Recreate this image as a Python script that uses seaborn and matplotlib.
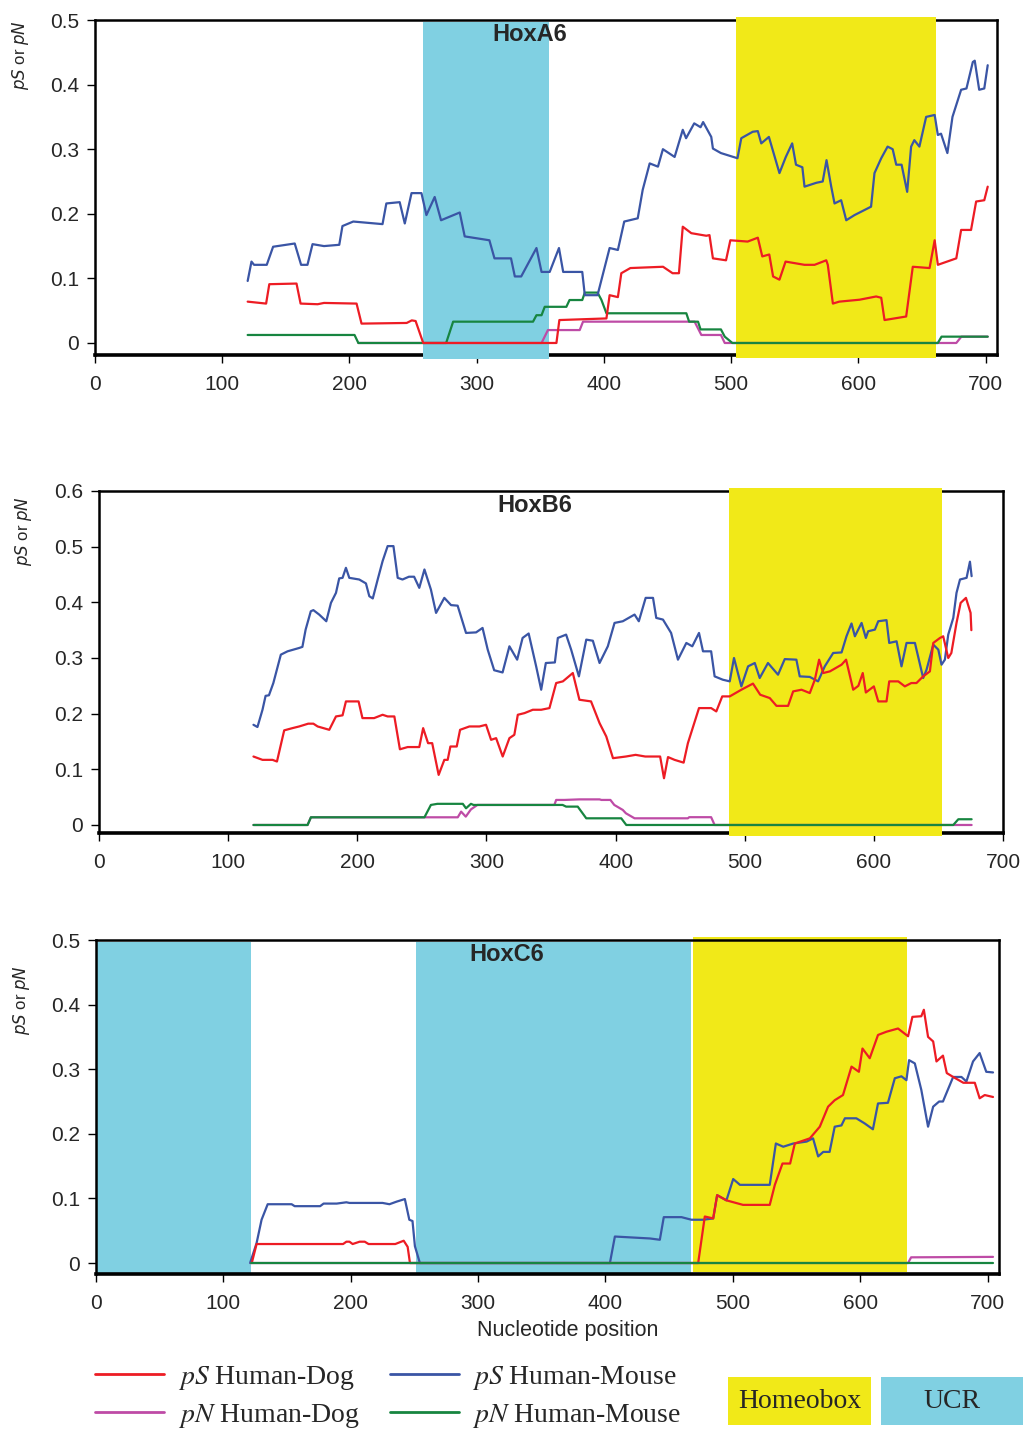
import numpy as np
import pandas as pd
import matplotlib
matplotlib.use('Agg')
import matplotlib.pyplot as plt
import seaborn as sns
from matplotlib.patches import Rectangle
from matplotlib.lines import Line2D
from matplotlib.ticker import FuncFormatter

# ---- data: (nucleotide position, value) ----
# HoxA6
a6_ps_dog = [(120, 0.064), (134.5, 0.061), (137, 0.091), (158.4, 0.092), (161.6, 0.061), (175, 0.060),
             (180, 0.062), (205.6, 0.061), (209.5, 0.030), (245, 0.031), (249, 0.035), (252, 0.034),
             (258, 0.0), (362.7, 0.0), (365, 0.0355), (402, 0.038), (404.5, 0.074), (411, 0.071),
             (413.7, 0.108), (420.8, 0.116), (446.5, 0.118), (454, 0.108), (459, 0.108), (462, 0.180),
             (468.7, 0.170), (480.5, 0.166), (483, 0.167), (485.7, 0.131), (496, 0.128), (499.4, 0.159),
             (513, 0.157), (521, 0.163), (524.5, 0.134), (530, 0.137), (533, 0.103), (538, 0.098),
             (542.8, 0.126), (557.7, 0.121), (565.6, 0.121), (574.8, 0.128), (576, 0.121), (580, 0.061),
             (585, 0.064), (601, 0.067), (614, 0.072), (618, 0.070), (620.6, 0.0355), (637.6, 0.041),
             (642.8, 0.118), (656, 0.116), (660, 0.159), (662.5, 0.121), (677, 0.131), (680.8, 0.175),
             (688.6, 0.175), (692.6, 0.219), (699, 0.221), (701.7, 0.242)]
a6_pn_dog = [(207, 0.0), (351, 0.0), (356, 0.020), (381, 0.020), (383.6, 0.033), (471.3, 0.033),
             (476.6, 0.0124), (492, 0.0124), (495, 0.0), (677, 0.0), (681, 0.0098), (701.7, 0.0098)]
a6_ps_mouse = [(120, 0.096), (123, 0.126), (125, 0.121), (135, 0.121), (140, 0.149), (157, 0.154),
               (162, 0.121), (167, 0.121), (171, 0.153), (180, 0.150), (192, 0.152), (194.5, 0.181),
               (203, 0.188), (226, 0.184), (229, 0.216), (239.5, 0.218), (243.5, 0.185), (248.8, 0.232),
               (256.6, 0.232), (260.5, 0.198), (267, 0.226), (272, 0.190), (286.7, 0.202), (290.6, 0.165),
               (310, 0.159), (314, 0.131), (327, 0.131), (330, 0.103), (335, 0.103), (347, 0.147),
               (351, 0.110), (357.4, 0.110), (364.7, 0.147), (368, 0.110), (383, 0.110), (385, 0.074),
               (395, 0.074), (404.5, 0.147), (411, 0.144), (416, 0.188), (426.6, 0.193), (430.5, 0.237),
               (436, 0.278), (442.5, 0.273), (446.4, 0.300), (455.6, 0.288), (462, 0.330), (464.6, 0.317),
               (471, 0.340), (476, 0.334), (478, 0.342), (484.4, 0.319), (485.7, 0.301), (492, 0.294),
               (505, 0.286), (508, 0.317), (517, 0.327), (521, 0.328), (523.7, 0.309), (529.7, 0.319),
               (538, 0.263), (543, 0.288), (548, 0.309), (551, 0.276), (556, 0.272), (557.7, 0.242),
               (567, 0.248), (572, 0.250), (575, 0.283), (578.7, 0.242), (581.3, 0.216), (586.5, 0.221),
               (590.5, 0.190), (597, 0.198), (610, 0.211), (612.7, 0.263), (618, 0.286), (623, 0.304),
               (627, 0.300), (629.8, 0.276), (634, 0.276), (638.4, 0.234), (641.5, 0.304), (644, 0.314),
               (648, 0.304), (653.3, 0.350), (660, 0.353), (662.5, 0.322), (665, 0.324), (670, 0.294),
               (674, 0.350), (680.8, 0.392), (685, 0.394), (690, 0.435), (691.5, 0.437), (695, 0.392),
               (699, 0.394), (701.7, 0.430)]
a6_pn_mouse = [(120, 0.0124), (204, 0.0124), (207, 0.0), (276, 0.0), (281.5, 0.033), (344.3, 0.033),
               (347, 0.043), (351, 0.043), (353.5, 0.056), (370.5, 0.056), (373, 0.0665), (383, 0.0665),
               (385, 0.078), (395, 0.078), (398, 0.067), (402, 0.046), (464.8, 0.046), (467, 0.033),
               (474, 0.033), (476, 0.021), (492, 0.021), (495, 0.0098), (501, 0.0), (662.5, 0.0),
               (665.4, 0.0098), (701.7, 0.0098)]

# HoxB6
b6_ps_dog = [(119.6, 0.123), (126.6, 0.117), (134.4, 0.117), (137.8, 0.114), (143.4, 0.170), (149.8, 0.174),
             (155, 0.177), (162, 0.182), (166, 0.182), (169.3, 0.177), (178.3, 0.171), (183.5, 0.195),
             (188.6, 0.197), (191.2, 0.222), (201, 0.222), (204, 0.192), (213, 0.192), (219.6, 0.198),
             (223.5, 0.195), (228.7, 0.195), (233, 0.136), (239, 0.140), (248, 0.140), (251, 0.174),
             (254.8, 0.147), (258, 0.147), (263, 0.090), (267.4, 0.117), (270, 0.117), (272.1, 0.141),
             (277, 0.141), (279.6, 0.171), (286.8, 0.177), (294.6, 0.177), (299.7, 0.180), (303.6, 0.153),
             (307.5, 0.156), (312.6, 0.123), (317.8, 0.156), (321.6, 0.162), (324.3, 0.198), (329.5, 0.201),
             (335.9, 0.207), (342.4, 0.207), (348.8, 0.210), (354, 0.255), (359.2, 0.258), (366.9, 0.273),
             (372, 0.225), (381, 0.222), (387.6, 0.183), (392.8, 0.159), (398, 0.120), (408, 0.123),
             (415.5, 0.126), (423, 0.123), (434.5, 0.123), (437.5, 0.084), (440.6, 0.122), (445.7, 0.117),
             (452.7, 0.112), (456, 0.147), (464.6, 0.210), (474, 0.210), (478, 0.204), (482.6, 0.231),
             (488.4, 0.231), (497.4, 0.243), (506.4, 0.254), (512, 0.234), (519.4, 0.228), (524.6, 0.214),
             (533.6, 0.214), (537.5, 0.240), (544, 0.243), (550.4, 0.237), (554.3, 0.261), (557.6, 0.297),
             (560.8, 0.273), (566, 0.276), (575, 0.288), (578.5, 0.297), (584, 0.243), (588, 0.250),
             (591.4, 0.273), (593.8, 0.238), (600, 0.249), (603.4, 0.222), (609.8, 0.222), (611.9, 0.258),
             (618.9, 0.258), (624, 0.249), (629, 0.255), (633, 0.255), (638.2, 0.267), (643.4, 0.276),
             (646, 0.327), (651.2, 0.336), (653.7, 0.339), (657.6, 0.300), (660, 0.309), (664, 0.363),
             (667.2, 0.399), (671.3, 0.408), (674.9, 0.381), (675.5, 0.350)]
b6_pn_dog = [(119.6, 0.0), (161.5, 0.0), (164.1, 0.0138), (277.8, 0.0138), (280.4, 0.024), (284, 0.015),
             (288, 0.028), (293, 0.036), (352.6, 0.036), (354, 0.045), (360.5, 0.045), (372, 0.046),
             (387.6, 0.046), (389, 0.045), (396, 0.045), (399, 0.036), (405.6, 0.027), (408, 0.021),
             (414.7, 0.012), (456, 0.012), (457, 0.014), (474, 0.014), (476.7, 0.0), (675.7, 0.0)]
b6_ps_mouse = [(119.6, 0.180), (122.7, 0.176), (126.6, 0.207), (129, 0.232), (131.6, 0.233), (135, 0.255),
               (140.8, 0.306), (146, 0.312), (155, 0.318), (157.5, 0.320), (160, 0.351), (164, 0.384),
               (166, 0.386), (170.5, 0.378), (176, 0.366), (179.6, 0.399), (183.5, 0.417), (186, 0.443),
               (188.6, 0.444), (191.2, 0.462), (193.8, 0.444), (201.5, 0.441), (206.7, 0.434), (209.3, 0.411),
               (212, 0.407), (215.8, 0.441), (219.6, 0.474), (223.5, 0.501), (228, 0.501), (231.3, 0.444),
               (235, 0.441), (240, 0.446), (244, 0.446), (248, 0.426), (252, 0.459), (257, 0.423),
               (261, 0.381), (267.4, 0.408), (272.6, 0.395), (277.7, 0.394), (284.2, 0.345), (292, 0.346),
               (297, 0.354), (301, 0.315), (306, 0.278), (312.5, 0.274), (317.8, 0.321), (323.8, 0.297),
               (328, 0.336), (332.7, 0.344), (338.5, 0.285), (342.4, 0.243), (346, 0.291), (353, 0.292),
               (355.3, 0.336), (361.7, 0.342), (365.6, 0.315), (371.6, 0.267), (377.3, 0.333), (382.4, 0.331),
               (387.6, 0.291), (394, 0.321), (399.2, 0.363), (405.6, 0.366), (414.7, 0.378), (418, 0.366),
               (423.3, 0.408), (429, 0.408), (431.5, 0.372), (436.7, 0.369), (443, 0.345), (448.3, 0.297),
               (454.8, 0.327), (459.4, 0.321), (464.6, 0.345), (467.7, 0.312), (474, 0.312), (476.7, 0.267),
               (483, 0.261), (488.4, 0.258), (491.7, 0.300), (497.4, 0.249), (502.6, 0.285), (507.8, 0.291),
               (511.6, 0.264), (518, 0.291), (525.8, 0.270), (531, 0.298), (540, 0.297), (542.6, 0.267),
               (550.4, 0.266), (556.8, 0.258), (562, 0.285), (568.5, 0.309), (575, 0.310), (578.8, 0.339),
               (582.7, 0.362), (585.3, 0.339), (590.5, 0.363), (593.8, 0.336), (595.6, 0.348), (600.8, 0.351),
               (603.4, 0.366), (609.8, 0.368), (611.9, 0.327), (617.6, 0.330), (621.4, 0.285), (625.3, 0.327),
               (631.8, 0.327), (638.2, 0.264), (640.8, 0.279), (646, 0.324), (649.9, 0.315), (652.4, 0.288),
               (655, 0.297), (657.6, 0.342), (661.5, 0.372), (664, 0.417), (666.7, 0.441), (671.8, 0.444),
               (674.4, 0.473), (675.7, 0.447)]
b6_pn_mouse = [(119.6, 0.0), (161.5, 0.0), (164.1, 0.0138), (252, 0.0138), (257, 0.036), (262, 0.038),
               (281.7, 0.038), (284.2, 0.030), (288, 0.038), (290, 0.036), (359, 0.036), (361.7, 0.033),
               (370.7, 0.033), (377.3, 0.012), (404.4, 0.012), (408.3, 0.0), (661.5, 0.0), (665.4, 0.0103),
               (675.7, 0.0103)]

# HoxC6
c6_ps_dog = [(122.3, 0.0), (126.1, 0.0294), (194, 0.0294), (196.6, 0.033), (199, 0.033), (201.5, 0.0294),
             (207, 0.033), (211, 0.033), (214, 0.0294), (235, 0.0294), (241.6, 0.0345), (244.7, 0.025),
             (246.5, 0.0), (472.8, 0.0), (478, 0.072), (484.6, 0.069), (487.7, 0.105), (495, 0.097),
             (508, 0.090), (529, 0.090), (533, 0.121), (539, 0.154), (545, 0.154), (548.7, 0.185),
             (560.5, 0.193), (568.3, 0.211), (574.8, 0.242), (580, 0.252), (586.5, 0.260), (593.2, 0.304),
             (599, 0.296), (601.8, 0.332), (607.5, 0.317), (614, 0.353), (620.6, 0.358), (629.7, 0.363),
             (637.6, 0.351), (641, 0.381), (648, 0.382), (650, 0.392), (653.3, 0.350), (657.3, 0.343),
             (659.9, 0.312), (665, 0.321), (668, 0.294), (673, 0.288), (681, 0.279), (690, 0.279),
             (693.8, 0.255), (697.8, 0.260), (704.3, 0.257)]
c6_pn_dog = [(121.5, 0.0), (637.6, 0.0), (640, 0.0088), (704.3, 0.0095)]
c6_ps_mouse = [(121, 0.0), (126.1, 0.031), (130, 0.067), (134.8, 0.091), (153.6, 0.091), (156, 0.088),
               (176, 0.088), (178.7, 0.092), (189, 0.092), (196.6, 0.094), (199, 0.093), (225, 0.093),
               (230.4, 0.091), (236, 0.095), (242.5, 0.099), (246, 0.067), (248.5, 0.065), (250.4, 0.026),
               (254.3, 0.0), (403.5, 0.0), (407.4, 0.041), (434.9, 0.038), (442.7, 0.036), (445.8, 0.071),
               (459.7, 0.071), (467.5, 0.067), (476.7, 0.067), (484.6, 0.069), (487.7, 0.105), (495, 0.097),
               (500.3, 0.130), (505.6, 0.121), (517.4, 0.121), (529, 0.121), (533.8, 0.185), (539.6, 0.180),
               (547.5, 0.185), (558, 0.188), (563, 0.193), (567, 0.165), (571, 0.172), (576, 0.172),
               (580, 0.211), (585.3, 0.213), (588, 0.224), (597, 0.224), (603.6, 0.216), (610, 0.207),
               (614, 0.247), (621.8, 0.248), (627.2, 0.286), (632.4, 0.289), (636.3, 0.283), (638.4, 0.314),
               (642.9, 0.309), (648, 0.268), (653.3, 0.211), (657.3, 0.242), (662, 0.250), (665, 0.250),
               (673, 0.288), (679.5, 0.288), (683.4, 0.281), (688.6, 0.312), (693.8, 0.325), (699, 0.296),
               (704.3, 0.295)]
c6_pn_mouse = [(121.5, 0.0), (704.3, 0.0)]

# shaded regions (start, end)
a6_ucr = [(258, 357)]
a6_homeobox = [(503.5, 661)]
b6_ucr = []
b6_homeobox = [(487.6, 652.7)]
c6_ucr = [(0, 121.6), (251, 467)]
c6_homeobox = [(468.6, 636.6)]

colors = {'pS Human-Dog': '#ED1C24', 'pN Human-Dog': '#BE4BA6',
          'pS Human-Mouse': '#3A55A5', 'pN Human-Mouse': '#178540'}
UCR_COLOR = '#80D0E2'
HOX_COLOR = '#F1E918'

sns.set_style('ticks')
plt.rcParams['font.family'] = ['Liberation Sans', 'DejaVu Sans']

fig = plt.figure(figsize=(10.25, 14.29), dpi=100)
W, H = 1025, 1429


def add_axes(left, top, right, bottom):
    return fig.add_axes([left / W, 1 - bottom / H, (right - left) / W, (bottom - top) / H])


def draw_panel(ax, data, order, ucr, homeobox, xmax, ymin, ymax, name, name_x, label_top, cover):
    df = pd.concat([pd.DataFrame(pts, columns=['pos', 'val']).assign(series=k) for k, pts in data.items()])
    span_z = 2.6 if cover else 1
    for a, b in ucr:
        s = ax.axvspan(a, b, ymin=-0.012 if cover else 0, ymax=0.995, color=UCR_COLOR, lw=0, zorder=span_z)
        s.set_clip_on(False)
    for a, b in homeobox:
        s = ax.axvspan(a, b, ymin=-0.008 if cover else 0.005, ymax=1.008, color=HOX_COLOR, lw=0, zorder=span_z)
        s.set_clip_on(False)
    sns.lineplot(data=df, x='pos', y='val', hue='series', hue_order=order, palette=colors,
                 sort=False, estimator=None, legend=False, ax=ax, lw=1.6, zorder=3)
    ax.set_xlim(0, xmax)
    ax.set_ylim(ymin, ymax)
    ax.set_xticks(range(0, 701, 100))
    ax.set_yticks(np.round(np.arange(0, ymax + 1e-9, 0.1), 1))
    ax.yaxis.set_major_formatter(FuncFormatter(lambda v, p: '0' if abs(v) < 1e-9 else f'{v:.1f}'))
    ax.tick_params(axis='both', direction='out', length=5.5, width=1, labelsize=15, color='black')
    ax.tick_params(axis='x', pad=9)
    ax.tick_params(axis='y', pad=6)
    for sp in ax.spines.values():
        sp.set_color('black')
        sp.set_linewidth(1.8)
    ax.spines['bottom'].set_linewidth(2.6)
    ax.set_xlabel('')
    ax.set_ylabel('')
    ax.text(name_x, 0.992, name, transform=ax.transAxes, ha='center', va='top',
            fontsize=17, fontweight='bold', zorder=5)
    ax.text(-0.083, label_top, r'$\mathit{pS}$ or $\mathit{pN}$', transform=ax.transAxes,
            rotation=90, ha='center', va='top', fontsize=12)


order_ab = ['pN Human-Dog', 'pN Human-Mouse', 'pS Human-Mouse', 'pS Human-Dog']
order_c = ['pS Human-Mouse', 'pS Human-Dog', 'pN Human-Dog', 'pN Human-Mouse']

ax1 = add_axes(95, 20, 997, 355)
draw_panel(ax1, {'pS Human-Dog': a6_ps_dog, 'pN Human-Dog': a6_pn_dog,
                 'pS Human-Mouse': a6_ps_mouse, 'pN Human-Mouse': a6_pn_mouse}, order_ab,
           a6_ucr, a6_homeobox, 709, -0.0186, 0.5, 'HoxA6', 0.482, 1.0, True)

ax2 = add_axes(99, 491, 1003, 833)
draw_panel(ax2, {'pS Human-Dog': b6_ps_dog, 'pN Human-Dog': b6_pn_dog,
                 'pS Human-Mouse': b6_ps_mouse, 'pN Human-Mouse': b6_pn_mouse}, order_ab,
           b6_ucr, b6_homeobox, 700, -0.0144, 0.6, 'HoxB6', 0.482, 0.985, True)

ax3 = add_axes(96, 940, 999, 1274)
draw_panel(ax3, {'pS Human-Dog': c6_ps_dog, 'pN Human-Dog': c6_pn_dog,
                 'pS Human-Mouse': c6_ps_mouse, 'pN Human-Mouse': c6_pn_mouse}, order_c,
           c6_ucr, c6_homeobox, 709, -0.017, 0.5, 'HoxC6', 0.455, 0.925, False)
ax3.set_xlabel('Nucleotide position', fontsize=15.5)
ax3.xaxis.set_label_coords((568 - 96) / 903, -0.138)

# legend: two columns of line handles, then the two shaded-region keys
leg_font = {'family': ['Liberation Serif', 'DejaVu Serif'], 'size': 20}
col1 = [Line2D([], [], color=colors['pS Human-Dog'], lw=2), Line2D([], [], color=colors['pN Human-Dog'], lw=2)]
col2 = [Line2D([], [], color=colors['pS Human-Mouse'], lw=2), Line2D([], [], color=colors['pN Human-Mouse'], lw=2)]
for handles, labels, x0 in [(col1, [r'$\mathit{pS}$ Human-Dog', r'$\mathit{pN}$ Human-Dog'], 95),
                            (col2, [r'$\mathit{pS}$ Human-Mouse', r'$\mathit{pN}$ Human-Mouse'], 390)]:
    leg = fig.legend(handles, labels, loc='upper left', bbox_to_anchor=(x0 / W, 1 - 1364 / H),
                     frameon=False, prop=leg_font, handlelength=2.5, handletextpad=0.47,
                     labelspacing=0.36, borderpad=0, borderaxespad=0)
    for t in leg.get_texts():
        t.set_math_fontfamily('stix')

for (x0, x1, label, col) in [(728, 871, 'Homeobox', HOX_COLOR), (881, 1023, 'UCR', UCR_COLOR)]:
    fig.add_artist(Rectangle((x0 / W, 4 / H), (x1 - x0) / W, 48 / H, transform=fig.transFigure,
                             facecolor=col, edgecolor='none'))
    fig.text((x0 + x1) / 2 / W, 1 - 1402 / H, label, ha='center', va='center',
             family=['Liberation Serif', 'DejaVu Serif'], fontsize=20)

fig.savefig('out.png', dpi=100)
